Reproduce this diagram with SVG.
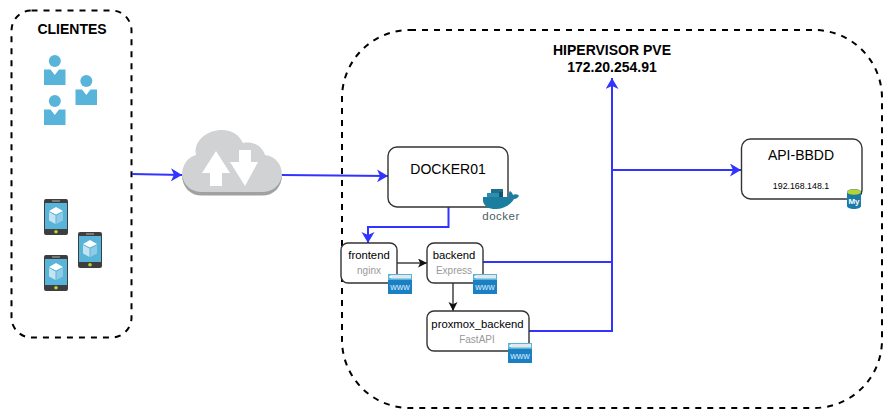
<svg xmlns="http://www.w3.org/2000/svg" width="892" height="420" viewBox="0 0 892 420">
<style>
text{font-family:"Liberation Sans",Arial,sans-serif;text-anchor:middle}
.zone{fill:none;stroke:#000;stroke-width:2;stroke-dasharray:6 6}
.box{fill:#fff;stroke:#333;stroke-width:1.400}
.b{fill:none;stroke:#3333ff;stroke-width:2}
.k{fill:none;stroke:#111;stroke-width:1.200}
.sub{fill:#999;font-size:10px}
.name{fill:#000;font-size:11.300px}
.title{font-weight:bold;font-size:14px;fill:#000}
</style>
<defs>
<marker id="ab" markerUnits="userSpaceOnUse" markerWidth="12" markerHeight="14" refX="11" refY="6.500" orient="auto"><path d="M0 0L11 6.500L0 13L3 6.500Z" fill="#3333ff"/></marker>
<marker id="ak" markerUnits="userSpaceOnUse" markerWidth="10" markerHeight="10" refX="9" refY="4.500" orient="auto"><path d="M0 0L9 4.500L0 9L2.200 4.500Z" fill="#111"/></marker>
<g id="user"><circle cx="10.800" cy="6" r="6" fill="#59b4d9"/><path d="M0 14.500H6.500L10.800 20L15 14.500H21.500V30H0Z" fill="#59b4d9"/></g>
<g id="phone"><rect x="0" y="0" width="24" height="36" rx="2" fill="#3e3e3e"/><rect x="1" y="4" width="22" height="26" fill="#59b4d9"/><rect x="8" y="1" width="8" height="2" fill="#777"/><circle cx="12" cy="32.800" r="1.800" fill="#b8d432"/><path d="M12 8L19 12L12 15.500L5 12Z" fill="#fff"/><path d="M5 13L11.500 16.500V25L5 21.500Z" fill="#c5e4f1"/><path d="M19 13L12.500 16.500V25L19 21.500Z" fill="#8fcbe4"/></g>
<g id="www"><rect width="24" height="20" fill="#1b7fc4"/><rect width="24" height="6" fill="#59b4d9"/><rect x="3" y="1" width="20" height="3.500" fill="#e4e8ea"/><circle cx="2.500" cy="2.800" r="1.300" fill="#fff"/><text x="12" y="15.500" style="font-size:9px;fill:#d8ecf8">www</text></g>
</defs>

<g id="clientes">
<rect class="zone" x="11.500" y="10.500" width="120" height="327" rx="20"/>
<text class="title" x="72" y="34">CLIENTES</text>
<use href="#user" x="44" y="55"/>
<use href="#user" x="75.500" y="75"/>
<use href="#user" x="44" y="95"/>
<use href="#phone" x="44" y="199"/>
<use href="#phone" x="78" y="232"/>
<use href="#phone" x="44" y="255"/>
</g>

<g id="hipervisor">
<rect class="zone" x="342" y="30" width="540" height="378" rx="68"/>
<text class="title" x="612" y="55">HIPERVISOR PVE</text>
<text class="title" x="612" y="72">172.20.254.91</text>
</g>

<g id="connectors">
<path class="b" d="M132 174L182 175" marker-end="url(#ab)"/>
<path class="b" d="M282 175L388 176" marker-end="url(#ab)"/>
<path class="b" d="M448.500 207V227H368V243" marker-end="url(#ab)"/>
<path class="k" d="M397 263H427" marker-end="url(#ak)"/>
<path class="k" d="M453 283V311" marker-end="url(#ak)"/>
<path class="b" d="M483 262H612V78" marker-end="url(#ab)"/>
<path class="b" d="M529 331H612V170H741" marker-end="url(#ab)"/>
</g>

<g id="internet">
<path d="M182 175C182 165 188 157 196 155C193 141 207 130 222 130C232 130 239 135 243 143C252 141 262 145 265 155C276 156 282 165 282 175C282 185 274 193 262 193H202C190 193 182 185 182 175Z" fill="#d0d2d3"/>
<path d="M182 173C182.500 185 191 192 202 192H262C273 192 281.500 185 282 173C282.500 187 274 195.500 262 195.500H202C190 195.500 181.500 187 182 173Z" fill="#a0a1a2"/>
<path d="M202 173L216 151L230 173H222V186H210V173Z" fill="#fff"/>
<path d="M230 162H239V150H251V162H258L245 186Z" fill="#fff"/>
</g>

<g id="docker01">
<rect class="box" x="388" y="147" width="120" height="60" rx="9"/>
<text x="448" y="174" style="font-size:14px">DOCKER01</text>
<path d="M483 201C484 207 490 209.500 497 209C505 208.500 511 204 514 199C517 199 518.500 197 519 195.500C517 194 514.500 194 513 195C512.500 193 511.500 192 510 191C508.500 193 508.500 195 509 197H483Z" fill="#1b7ea1"/>
<rect x="487" y="193" width="16" height="4" fill="#2a8fb0"/><rect x="491" y="189" width="12" height="4" fill="#1f6f8c"/><rect x="499" y="192" width="4" height="5" fill="#16566d"/>
<text x="501" y="220" style="font-size:11.500px;fill:#4b5e66;letter-spacing:.5px">docker</text>
</g>

<g id="frontend">
<rect class="box" x="341" y="243" width="56" height="40" rx="7"/>
<text class="name" x="369" y="259">frontend</text>
<text class="sub" x="369" y="274">nginx</text>
<use href="#www" x="388" y="274"/>
</g>

<g id="backend">
<rect class="box" x="427" y="243" width="56" height="40" rx="7"/>
<text class="name" x="454" y="259">backend</text>
<text class="sub" x="454" y="274">Express</text>
<use href="#www" x="473" y="274"/>
</g>

<g id="proxmox_backend">
<rect class="box" x="427" y="311" width="102" height="40" rx="7"/>
<text class="name" x="477.500" y="328">proxmox_backend</text>
<text class="sub" x="477" y="343">FastAPI</text>
<use href="#www" x="508" y="343"/>
</g>

<g id="api-bbdd">
<rect class="box" x="741.500" y="139" width="120.500" height="60" rx="9"/>
<text x="801" y="160" style="font-size:14px">API-BBDD</text>
<text x="801" y="189" style="font-size:8.800px">192.168.148.1</text>
<path d="M847 192C847 188 861 188 861 192V206C861 210 847 210 847 206Z" fill="#1a7aa8"/>
<ellipse cx="854" cy="192" rx="7" ry="2.800" fill="#b8d432"/>
<text x="854" y="204" style="font-size:8px;font-weight:bold;fill:#fff">My</text>
</g>
</svg>
